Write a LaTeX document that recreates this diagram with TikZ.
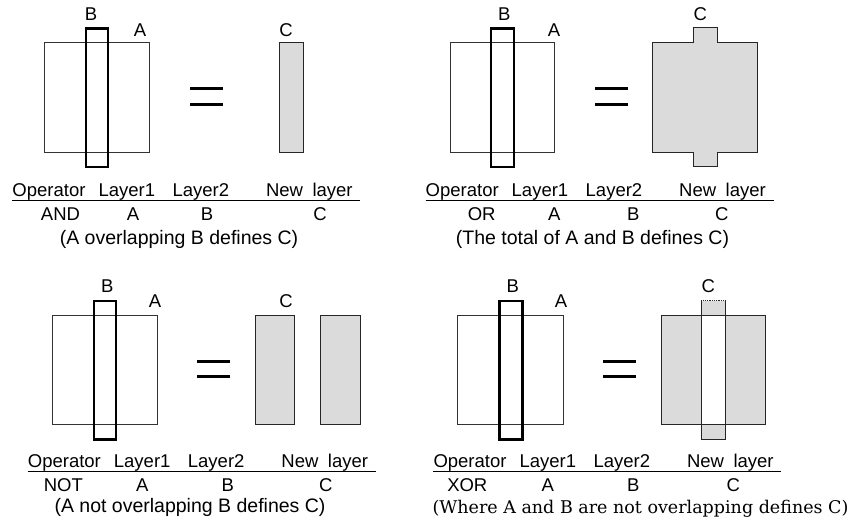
\documentclass[tikz,border=0pt]{standalone}
\usepackage{fontspec}
\setmainfont{Liberation Sans}
\newfontfamily\serifdv{DejaVu Serif}
\begin{document}
\begin{tikzpicture}[x=1pt,y=-1pt,
  txt/.style={font=\fontsize{18.5}{21}\selectfont, inner sep=0pt, anchor=base},
  hdr/.style={txt, anchor=base west},
  par/.style={font=\fontsize{19.5}{22}\selectfont, inner sep=0pt, anchor=base},
  spar/.style={font=\serifdv\fontsize{17.5}{20}\selectfont, inner sep=0pt, anchor=base},
  layerA/.style={draw=black!80, line width=0.9pt},
  layerB/.style={draw=black, line width=2.4pt},
  eqbar/.style={draw=black, line width=3pt},
  newc/.style={draw=black!85, line width=1pt, fill=black!14},
  uline/.style={draw=black, line width=1.5pt},
]
\useasboundingbox (0,0) rectangle (850,523);

% header macro: #1 = x of "Operator", #2 = baseline y, #3 = prefix
\newcommand\hdrrow[3]{%
  \node[hdr] (#3op) at (#1,#2) {Operator};
  \node[hdr] (#3l1) at ({#1+86},#2) {Layer1};
  \node[hdr] (#3l2) at ({#1+160},#2) {Layer2};
  \node[hdr] (#3nw) at ({#1+253.5},#2) {New};
  \node[hdr] (#3ly) at ({#1+300},#2) {layer};
  \coordinate (#3u1) at (#1,{#2+3.8});
  \coordinate (#3u2) at ({#1+348},{#2+3.8});
  \draw[uline] (#3u1) -- (#3u2);
}

% ---------------- AND (top left)
\draw[layerA] (44.3,42.7) rectangle (149,152);
\draw[layerB] (85.7,28.3) rectangle (107.7,166.7);
\node[txt] (tlB) at (91,20) {B};
\node[txt] (tlA) at (140,36) {A};
\draw[eqbar] (190,88.7) -- (222.7,88.7);
\draw[eqbar] (190,104.3) -- (222.7,104.3);
\draw[newc] (279.3,42.7) rectangle (303.3,152);
\node[txt] (tlC) at (286,36) {C};
\hdrrow{12.3}{196.5}{tl}
\node[txt] (tlop) at (60.5,220) {AND};
\node[txt] (tla) at (133,220) {A};
\node[txt] (tlb) at (207,220) {B};
\node[txt] (tlc) at (320,220) {C};
\node[par] (tlp) at (179,244) {(A overlapping B defines C)};

% ---------------- OR (top right)
\draw[layerA] (450,42.7) rectangle (554.7,152);
\draw[layerB] (491,28.3) rectangle (514,166.7);
\node[txt] (trB) at (504.3,20) {B};
\node[txt] (trA) at (554,36) {A};
\draw[eqbar] (595,88.7) -- (627.7,88.7);
\draw[eqbar] (595,104.3) -- (627.7,104.3);
\draw[newc] (652,42.7) -- (693.3,42.7) -- (693.3,27.3) -- (717.3,27.3) -- (717.3,42.7)
  -- (757.3,42.7) -- (757.3,152) -- (717.3,152) -- (717.3,166.7) -- (693.3,166.7)
  -- (693.3,152) -- (652,152) -- cycle;
\node[txt] (trC) at (700.3,20) {C};
\hdrrow{425.5}{196.5}{tr}
\node[txt] (trop) at (481.7,220) {OR};
\node[txt] (tra) at (554.3,220) {A};
\node[txt] (trb) at (633.3,220) {B};
\node[txt] (trc) at (721.7,220) {C};
\node[par] (trp) at (592.5,244) {(The total of A and B defines C)};

% ---------------- NOT (bottom left)
\draw[layerA] (52.3,315.3) rectangle (157.3,424);
\draw[layerB] (93.7,300.7) rectangle (116,439.3);
\node[txt] (blB) at (107.3,292.7) {B};
\node[txt] (blA) at (155,307.7) {A};
\draw[eqbar] (197.3,361) -- (230,361);
\draw[eqbar] (197.3,376) -- (230,376);
\draw[newc] (255,315.3) rectangle (294.7,424);
\draw[newc] (320.7,315.3) rectangle (360,424);
\node[txt] (blC) at (286,307.7) {C};
\hdrrow{27.7}{467.5}{bl}
\node[txt] (blop) at (63.3,491.5) {NOT};
\node[txt] (bla) at (142.3,491.5) {A};
\node[txt] (blb) at (227.7,491.5) {B};
\node[txt] (blc) at (325.7,491.5) {C};
\node[par] (blp) at (190,512.5) {(A not overlapping B defines C)};

% ---------------- XOR (bottom right)
\draw[layerA] (457.7,315.3) rectangle (563.3,424);
\draw[layerB] (499.3,300.7) rectangle (522.3,439.3);
\node[txt] (brB) at (512.7,292.7) {B};
\node[txt] (brA) at (561,307.7) {A};
\draw[eqbar] (603.3,361) -- (635.7,361);
\draw[eqbar] (603.3,376) -- (635.7,376);
\fill[black!14] (701.3,300.7) rectangle (725.3,439.3);
\draw[newc] (661,315.3) rectangle (765.7,424);
\fill[white] (701.3,315.3) rectangle (725.3,424);
\draw[draw=black!85, line width=1pt] (661,315.3) -- (765.7,315.3);
\draw[draw=black!85, line width=1pt] (701.3,424) -- (725.3,424);
\draw[draw=black!85, line width=1pt] (701.3,300.7) -- (701.3,439.3) -- (725.3,439.3) -- (725.3,300.7);
\draw[draw=black!85, line width=0.8pt, densely dotted] (701.3,300.7) -- (725.3,300.7);
\node[txt] (brC) at (708.3,292.7) {C};
\hdrrow{433.3}{467.5}{br}
\node[txt] (brop) at (467.3,491.5) {XOR};
\node[txt] (bra) at (547.7,491.5) {A};
\node[txt] (brb) at (633.3,491.5) {B};
\node[txt] (brc) at (733.3,491.5) {C};
\node[spar] (brp) at (640.5,513.3) {(Where A and B are not overlapping defines C)};
\end{tikzpicture}
\end{document}
